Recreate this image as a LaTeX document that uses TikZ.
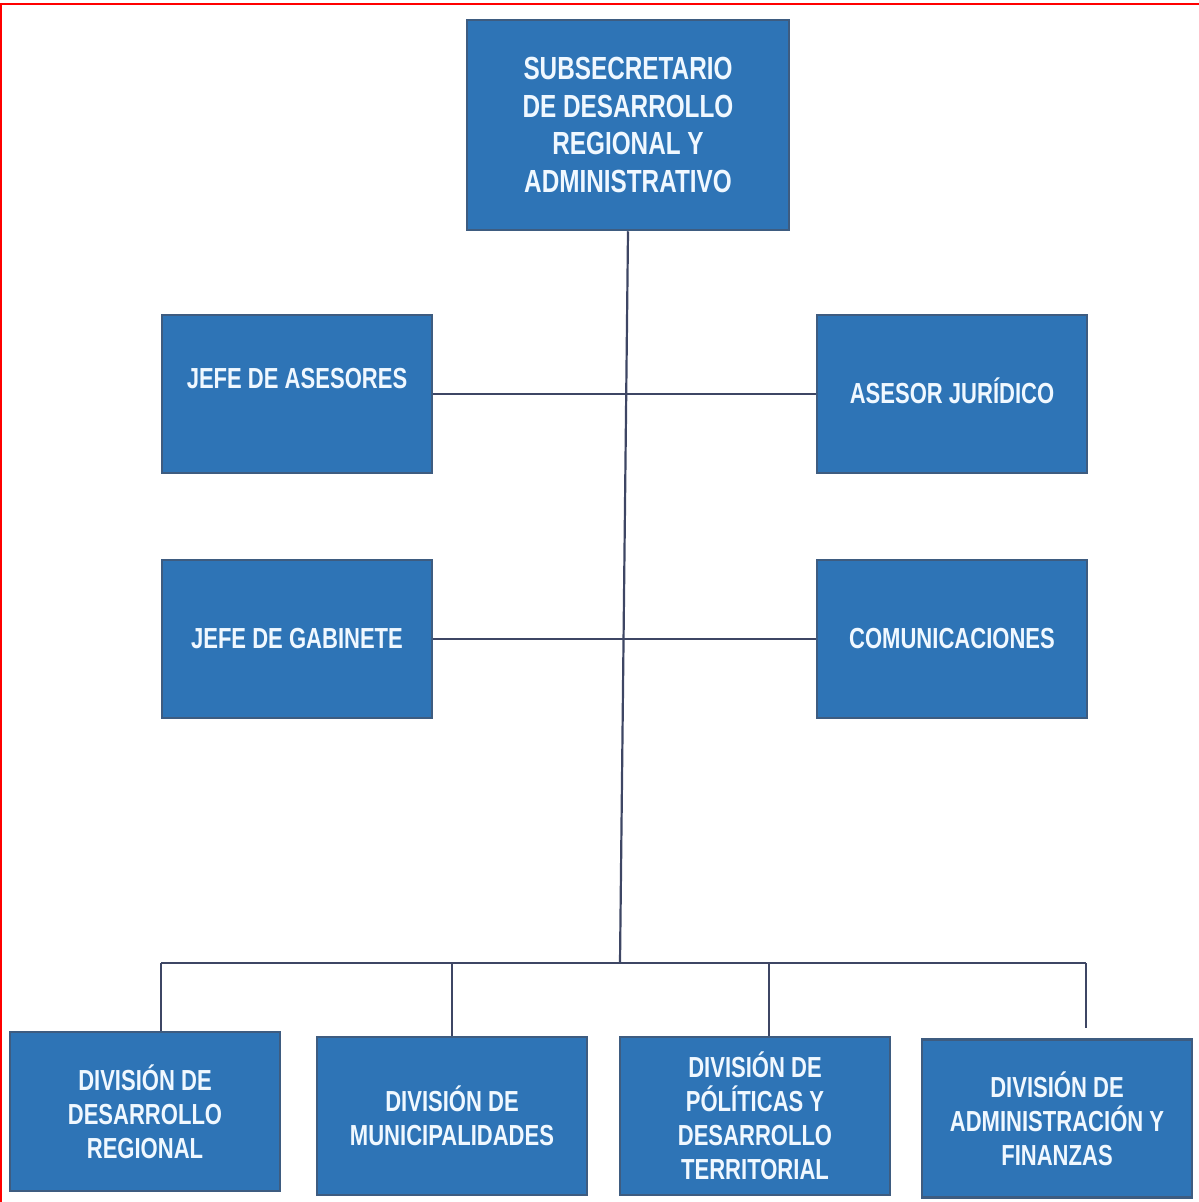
\documentclass[tikz,border=0pt]{standalone}
\usepackage{fontspec}
\setmainfont{Liberation Sans}[FakeStretch=0.76]
\usetikzlibrary{calc}
\definecolor{cajaazul}{RGB}{46,116,182}
\definecolor{bordeazul}{RGB}{62,92,128}
\definecolor{lineagris}{RGB}{62,70,100}
\definecolor{textoblanco}{RGB}{240,248,255}
\tikzstyle{cargo}=[rectangle,
                   draw=bordeazul,
                   line width=2.5pt,
                   fill=cajaazul,
                   text=textoblanco,
                   font=\bfseries\fontsize{29}{34}\selectfont,
                   align=center,
                   inner sep=0pt,
                   minimum width=270pt,
                   minimum height=158pt]
\tikzstyle{subse}=[cargo,
                   minimum width=322pt,
                   minimum height=210pt,
                   font=\bfseries\fontsize{32}{37.5}\selectfont]
\tikzstyle{enlace}=[draw=lineagris, line width=2.2pt]

\begin{document}
\begin{tikzpicture}[x=1pt,y=-1pt]
    \useasboundingbox (0,0) rectangle (1199,1202);
    \draw[red, line width=1.2pt] (1,1202) -- (1,4) -- (1199,4);

    \node[subse] (subsecretario) at (628,125) {SUBSECRETARIO\\DE DESARROLLO\\REGIONAL Y\\ADMINISTRATIVO};
    \node[cargo] (asesores) at (297,394) {\raisebox{32pt}{JEFE DE ASESORES}};
    \node[cargo, right of=asesores, node distance=655pt] (juridico) {\raisebox{6pt}{ASESOR JURÍDICO}};
    \node[cargo, below of=asesores, node distance=245pt] (gabinete) {JEFE DE GABINETE};
    \node[cargo, right of=gabinete, node distance=655pt] (comunica) {COMUNICACIONES};

    \node[cargo, minimum height=159pt] (dregional) at (145,1111.5) {DIVISIÓN DE\\DESARROLLO\\REGIONAL};
    \node[cargo, right of=dregional, node distance=307pt, yshift=-4.5pt] (dmunic) {DIVISIÓN DE\\MUNICIPALIDADES};
    \node[cargo, right of=dmunic, node distance=303pt] (dpoliticas) {DIVISIÓN DE\\PÓLÍTICAS Y\\DESARROLLO\\TERRITORIAL};
    \node[cargo, right of=dpoliticas, node distance=302pt, yshift=-2.5pt] (dadmin) {DIVISIÓN DE\\ADMINISTRACIÓN Y\\FINANZAS};

    \coordinate (bus) at (620,963);
    \coordinate (busizq) at (161,963);
    \coordinate (busder) at (1086,963);
    \coordinate (bajada) at (769,963);
    \coordinate (finder) at (1086,1028);

    \path[enlace] (subsecretario.south) edge (bus)
   (asesores.east) edge (juridico.west)
   (gabinete.east) edge (comunica.west)
   (busizq) edge (busder)
   (busizq) edge (busizq |- dregional.north)
   (dmunic.north |- bus) edge (dmunic.north)
   (bajada) edge (bajada |- dpoliticas.north)
   (busder) edge (finder);
\end{tikzpicture}
\end{document}
